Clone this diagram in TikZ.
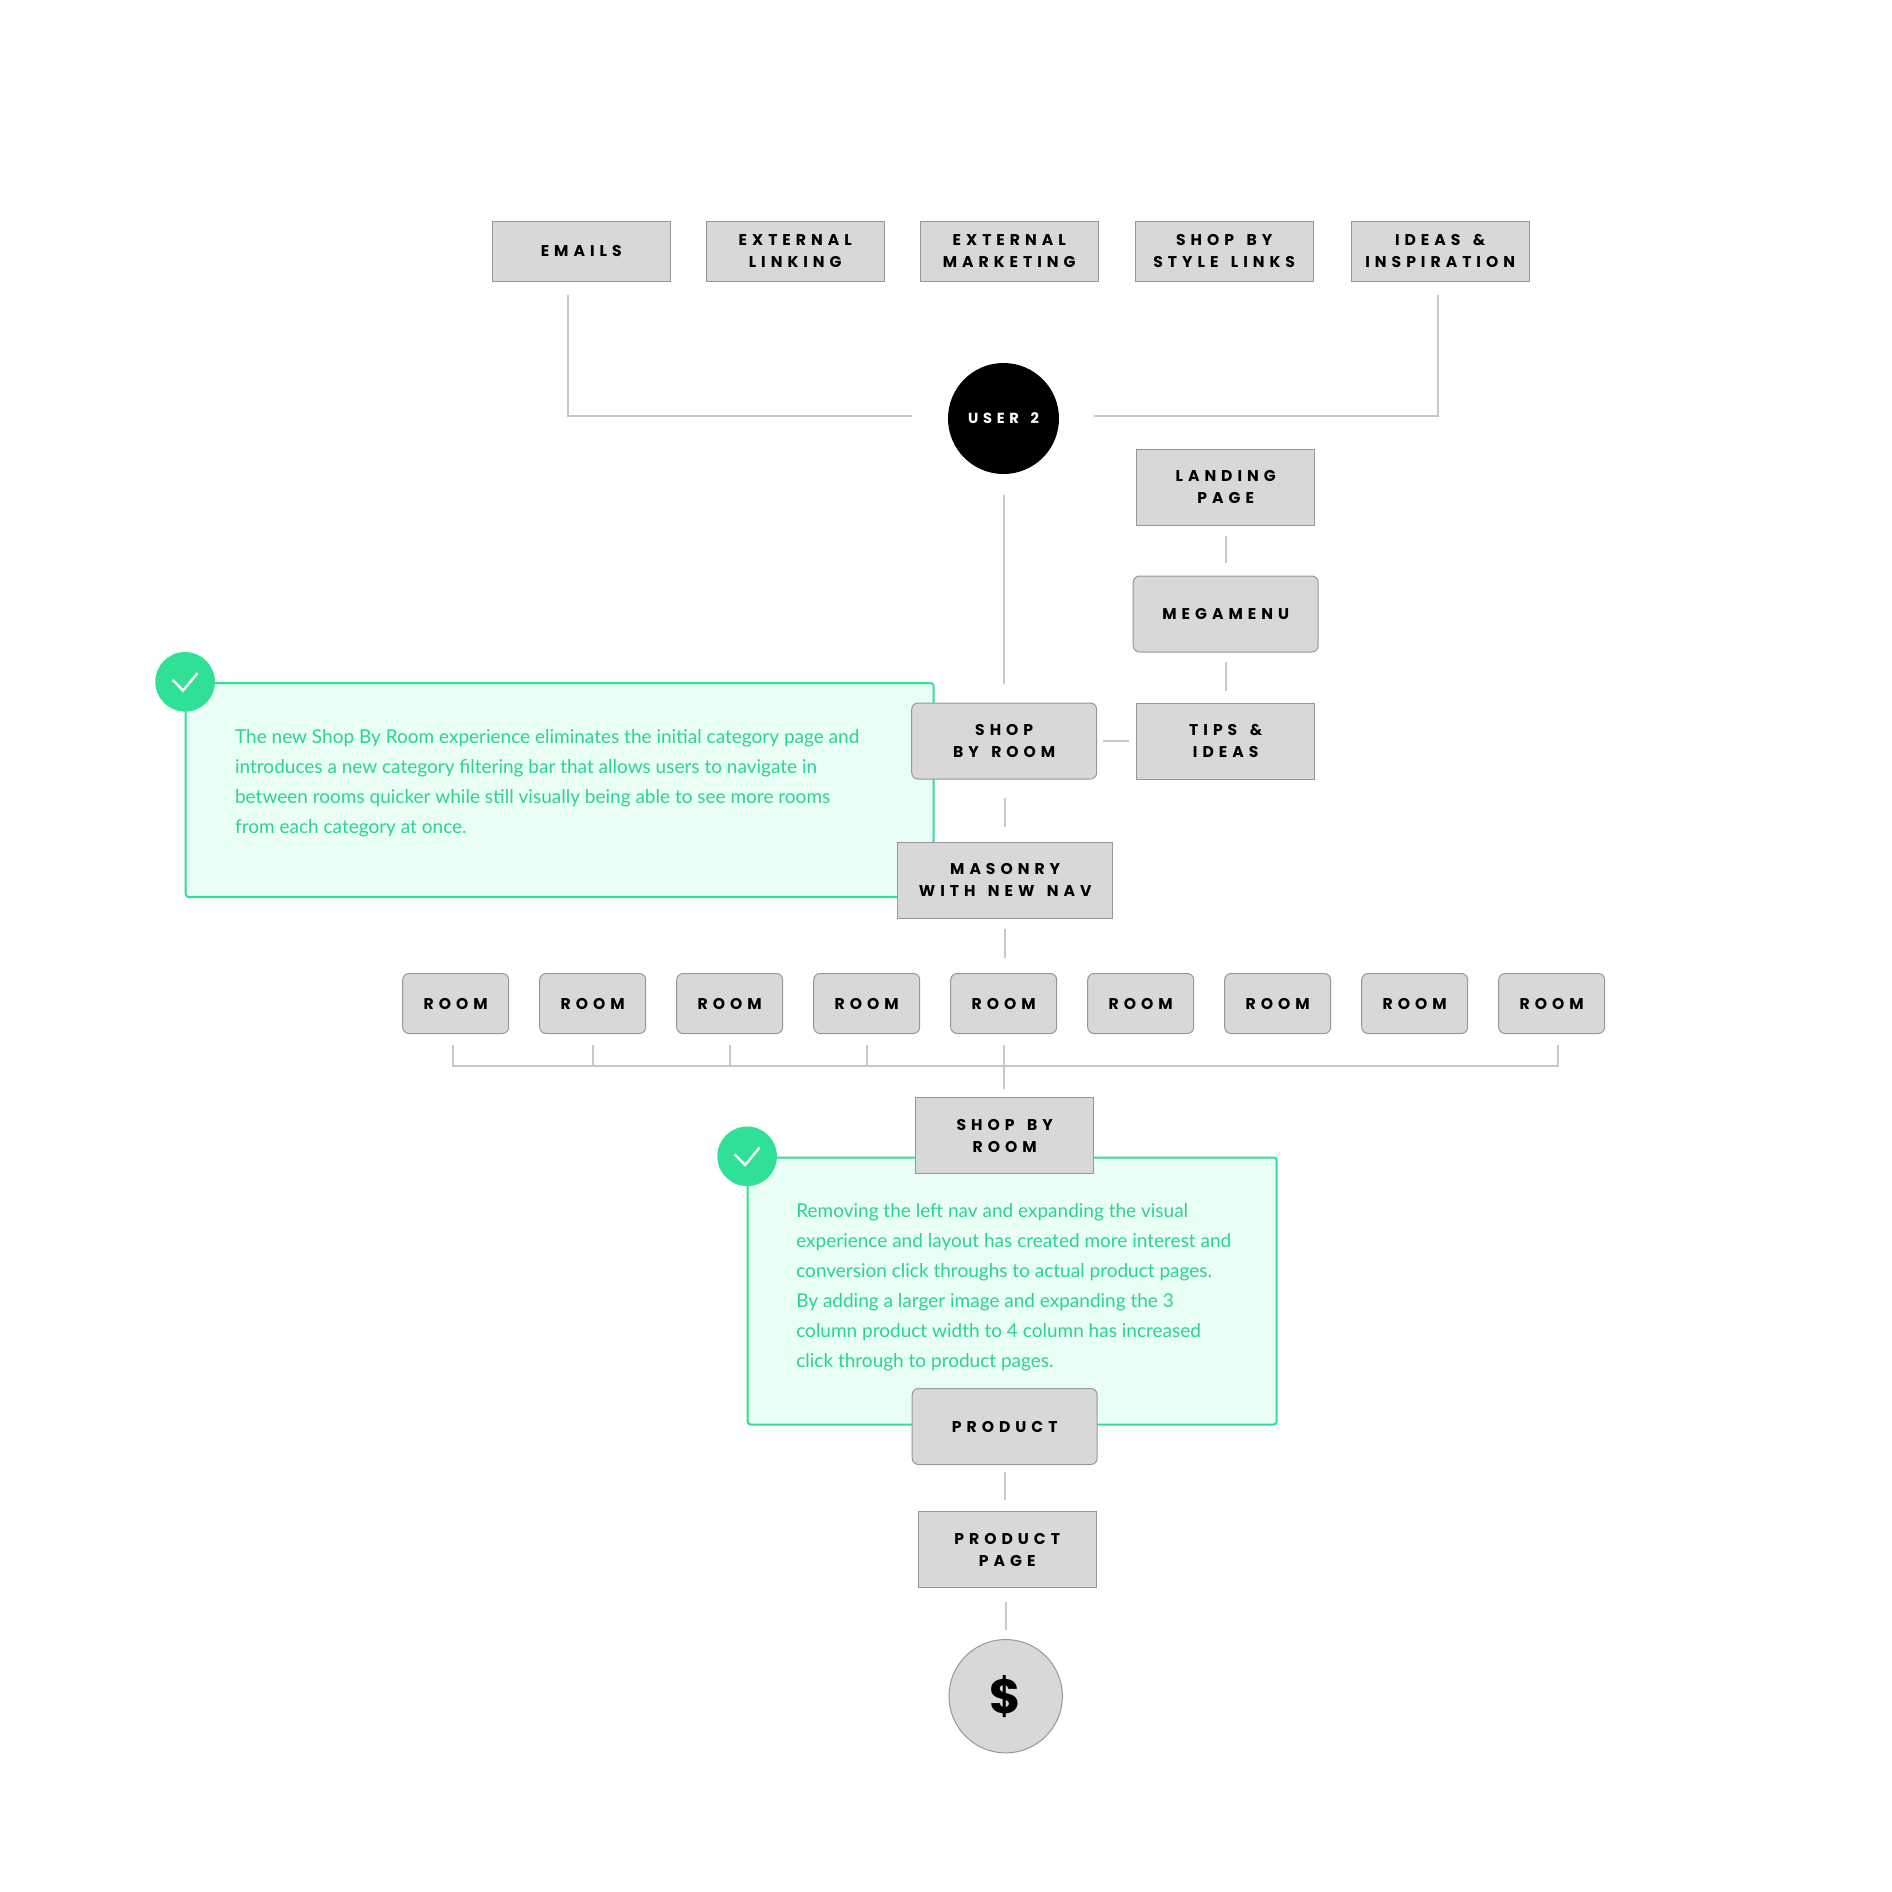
\documentclass[tikz,border=0pt]{standalone}
\usepackage{fontspec}
\usepackage{xcolor}
\usetikzlibrary{positioning,calc,backgrounds}
\newfontfamily\labelfamily[LetterSpace=32,WordSpace=1.5]{Poppins}
\newfontfamily\notefamily{Lato}
\newcommand{\labelfont}{\fontsize{7.8}{11}\selectfont\labelfamily\bfseries}
\newcommand{\notefont}{\fontsize{9.5}{15}\selectfont\notefamily}
\definecolor{greybox}{HTML}{D8D8D8}
\definecolor{greyedge}{HTML}{979797}
\definecolor{linkgrey}{HTML}{C8C8C8}
\definecolor{notegreen}{HTML}{30E096}
\definecolor{notetextgreen}{HTML}{2BD48D}
\definecolor{notefill}{HTML}{E9FFF6}
\tikzset{
  pagebox/.style={
    rectangle, draw=greyedge, line width=0.5pt, fill=greybox, outer sep=0pt, inner sep=0pt,
    minimum width=89pt, minimum height=38pt, align=center, font=\labelfont
  },
  roundbox/.style={pagebox, rounded corners=3.2pt},
  linkline/.style={draw=linkgrey, line width=1pt},
  notepanel/.style={
    rectangle, draw=notegreen, line width=1pt, fill=notefill, rounded corners=1.5pt,
    outer sep=0pt, inner sep=0pt
  },
  notetext/.style={align=left, font=\notefont, text=notetextgreen, inner sep=0pt},
  checkbadge/.style={circle, fill=notegreen, minimum size=29.8pt, inner sep=0pt},
  checkmark/.style={draw=white, line width=1.2pt}
}
\begin{document}
\begin{tikzpicture}
\useasboundingbox (0,0) rectangle (946pt,-946pt);

% entry points along the top
\node[pagebox, minimum height=30pt] (emails) at (290.6pt,-125.5pt) {EMAILS};
\node[pagebox, minimum height=30pt, right=18pt of emails] (extlinking) {EXTERNAL\\LINKING};
\node[pagebox, minimum height=30pt, right=18pt of extlinking] (extmarketing) {EXTERNAL\\MARKETING};
\node[pagebox, minimum height=30pt, right=18.5pt of extmarketing] (stylelinks) {SHOP BY\\STYLE LINKS};
\node[pagebox, minimum height=30pt, right=19pt of stylelinks] (ideas) {IDEAS \&\\INSPIRATION};

\node[circle, fill=black, minimum size=111pt/2, inner sep=0pt, outer sep=0pt, text=white,
  font=\fontsize{7.3}{11}\selectfont\labelfamily\bfseries, below=41pt of extmarketing, xshift=-2.85pt] (user) {USER 2};

% right hand branch
\node[pagebox, below=84pt of stylelinks, xshift=0.75pt] (landing) {LANDING\\PAGE};
\node[roundbox, minimum width=92.5pt, below=25.5pt of landing] (megamenu) {MEGAMENU};
\node[pagebox, below=25.5pt of megamenu] (tips) {TIPS \&\\IDEAS};

% main column
\node[roundbox, minimum width=92.5pt, left=20pt of tips] (shoproom) {SHOP\\BY ROOM};
\node[pagebox, minimum width=107.5pt, below=31.5pt of shoproom, xshift=0.5pt] (masonry) {MASONRY\\WITH NEW NAV};

\node[roundbox, minimum width=53pt, minimum height=30pt, below=27.75pt of masonry, xshift=-274.75pt] (room1) {ROOM};
\foreach \i [remember=\i as \prev (initially 1)] in {2,...,9}
  \node[roundbox, minimum width=53pt, minimum height=30pt, right=15.5pt of room\prev] (room\i) {ROOM};

\node[pagebox, below=32pt of room5, xshift=0.5pt] (roomtwo) {SHOP BY\\ROOM};
\node[roundbox, minimum width=92.5pt, below=107.5pt of roomtwo] (product) {PRODUCT};
\node[pagebox, below=23.5pt of product, xshift=1.25pt] (productpage) {PRODUCT\\PAGE};
\node[circle, draw=greyedge, line width=0.5pt, fill=greybox, minimum size=56.7pt, inner sep=0pt, outer sep=0pt,
  font=\fontsize{24}{24}\selectfont\labelfamily\bfseries, below=26pt of productpage, xshift=-0.75pt] (dollar) {\$};

% green notes sit behind the boxes
\begin{scope}[on background layer]
\node[notepanel, minimum width=374pt, minimum height=107pt, anchor=north east] (panelone)
  at ($(shoproom.north west)+(11pt,10pt)$) {};
\node[notepanel, minimum width=264.5pt, minimum height=133.5pt, anchor=north west] (paneltwo)
  at ($(roomtwo.north west)+(-84pt,-30pt)$) {};
\end{scope}

\node[notetext, right=24.5pt of panelone.west, yshift=3.3pt] (noteone)
  {The new Shop By Room experience eliminates the initial category page and\\
   introduces a new category filtering bar that allows users to navigate in\\
   between rooms quicker while still visually being able to see more rooms\\
   from each category at once.};
\node[notetext, right=24.1pt of paneltwo.west, yshift=1.8pt] (notetwo)
  {Removing the left nav and expanding the visual\\
   experience and layout has created more interest and\\
   conversion click throughs to actual product pages.\\
   By adding a larger image and expanding the 3\\
   column product width to 4 column has increased\\
   click through to product pages.};

\node[checkbadge] (badgeone) at ($(panelone.north west)+(-0.3pt,0.6pt)$) {};
\node[checkbadge] (badgetwo) at ($(paneltwo.north west)+(-0.3pt,0.6pt)$) {};
\foreach \b in {badgeone,badgetwo}
  \draw[checkmark] ($(\b)+(-6.25pt,1pt)$) -- ($(\b)+(-1pt,-4.35pt)$) -- ($(\b)+(6.2pt,4.35pt)$);

% connectors, all of them stop short of the boxes
\coordinate (emailsdrop) at ($(emails.south)+(-6.6pt,-7pt)$);
\coordinate (ideasdrop) at ($(ideas.south)+(-1.1pt,-7pt)$);
\coordinate (userleft) at ($(user.west)+(-18pt,1.25pt)$);
\coordinate (userright) at ($(user.east)+(17.5pt,1.25pt)$);
\draw[linkline] (emailsdrop) |- (userleft);
\draw[linkline] (ideasdrop) |- (userright);

\draw[linkline, shorten <=10.5pt, shorten >=9.5pt] (user.south -| shoproom.north) -- (shoproom.north);
\draw[linkline, shorten <=5.5pt, shorten >=6.5pt] (landing.south) -- (landing.south |- megamenu.north);
\draw[linkline, shorten <=5pt, shorten >=6pt] (megamenu.south) -- (megamenu.south |- tips.north);
\draw[linkline, shorten <=3pt, shorten >=4pt, yshift=-1.5pt] (shoproom.east) -- (tips.west);
\draw[linkline, shorten <=9.5pt, shorten >=7.5pt] (shoproom.south -| masonry.north) -- (masonry.north);
\draw[linkline, shorten <=5.5pt, shorten >=7.75pt] (masonry.south) -- (masonry.south |- room5.north);

% bus under the rooms
\coordinate (busleft) at ($(room1.south)+(-1.5pt,-16pt)$);
\coordinate (busright) at ($(room9.south)+(2.9pt,-16pt)$);
\draw[linkline] ($(room1.south)+(-1.5pt,-5.5pt)$) -- (busleft) -- (busright) -- ($(room9.south)+(2.9pt,-5.5pt)$);
\foreach \i in {2,3,4}
  \draw[linkline, shorten <=5.5pt] (room\i.south) -- (room\i.south |- busleft);
\draw[linkline, shorten <=5.5pt, shorten >=4.5pt, xshift=0.9pt] (room5.south) -- (room5.south |- roomtwo.north);

\draw[linkline, shorten <=3.5pt, shorten >=6pt, xshift=0.9pt] (product.south) -- (product.south |- productpage.north);
\draw[linkline, shorten <=7pt, shorten >=5pt] (productpage.south -| dollar.north) -- (dollar.north);
\end{tikzpicture}
\end{document}
